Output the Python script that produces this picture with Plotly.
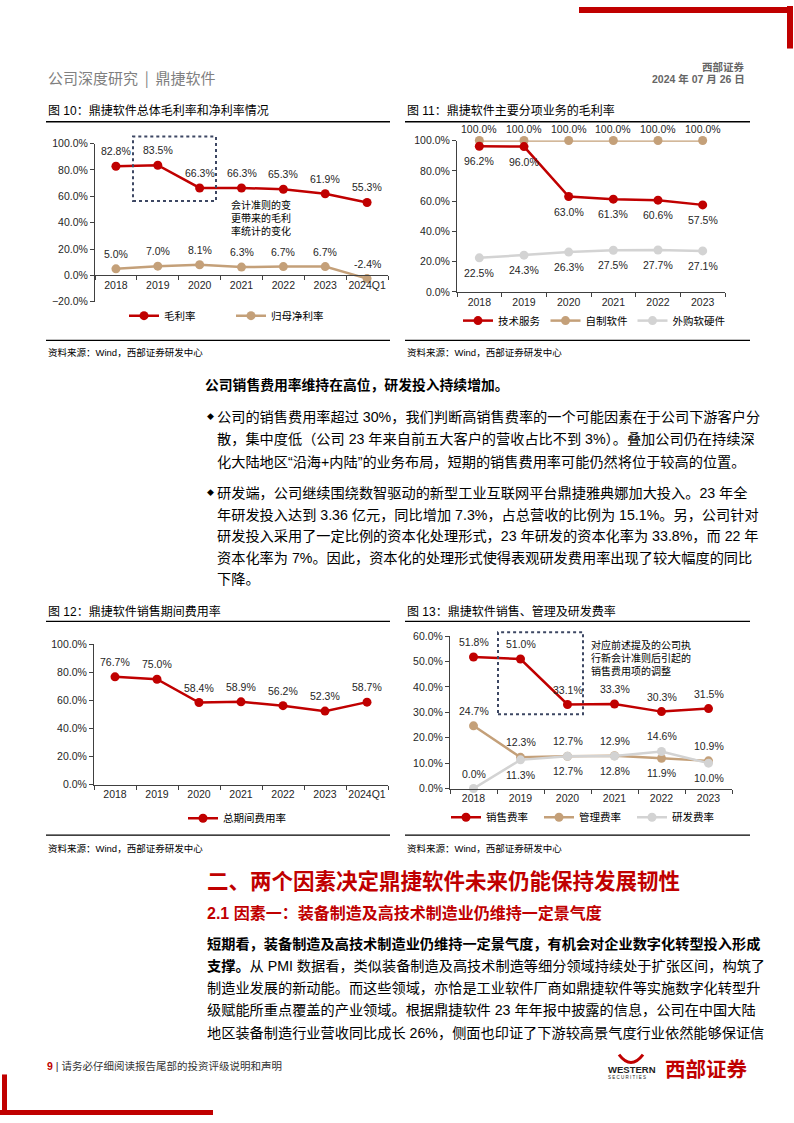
import plotly.graph_objects as go

W, H = 794, 1123


def X(p):
    return p / W


def Y(p):
    return 1 - p / H


RED = "#C00000"
TAN = "#C4A079"
GRAY = "#D3D3D3"
BOX = "#3D4763"
AX = "#404040"
TXT = "#262626"
FONT = "Liberation Sans, Noto Sans CJK SC, sans-serif"
CJK = "Noto Sans CJK SC, Liberation Sans, sans-serif"

# ---------------- data ----------------
years7 = ["2018", "2019", "2020", "2021", "2022", "2023", "2024Q1"]
years6 = ["2018", "2019", "2020", "2021", "2022", "2023"]

gross_margin = [82.8, 83.5, 66.3, 66.3, 65.3, 61.9, 55.3]
net_margin = [5.0, 7.0, 8.1, 6.3, 6.7, 6.7, -2.4]

tech_service = [96.2, 96.0, 63.0, 61.3, 60.6, 57.5]
own_software = [100.0, 100.0, 100.0, 100.0, 100.0, 100.0]
purchased_hw_sw = [22.5, 24.3, 26.3, 27.5, 27.7, 27.1]

total_expense = [76.7, 75.0, 58.4, 58.9, 56.2, 52.3, 58.7]

selling_rate = [51.8, 51.0, 33.1, 33.3, 30.3, 31.5]
admin_rate = [24.7, 12.3, 12.7, 12.9, 11.9, 10.9]
rnd_rate = [0.0, 11.3, 12.7, 12.8, 14.6, 10.0]

# label placement (a = above, b = below)
pos_admin = ["a", "a", "a", "a", "b", "a"]
pos_rnd = ["a", "b", "b", "b", "a", "b"]

fig = go.Figure()


def add_line(x, y, name, color, xa, ya, legend, rank):
    fig.add_trace(go.Scatter(
        x=x, y=y, name=name, mode="lines+markers",
        line=dict(color=color, width=2.5),
        marker=dict(size=9, color=color),
        xaxis=xa, yaxis=ya, legend=legend, legendrank=rank,
        hoverinfo="skip", cliponaxis=False))


# chart 10
add_line(years7, net_margin, "归母净利率", TAN, "x", "y", "legend", 2)
add_line(years7, gross_margin, "毛利率", RED, "x", "y", "legend", 1)
# chart 11
add_line(years6, own_software, "自制软件", TAN, "x2", "y2", "legend2", 2)
add_line(years6, purchased_hw_sw, "外购软硬件", GRAY, "x2", "y2", "legend2", 3)
add_line(years6, tech_service, "技术服务", RED, "x2", "y2", "legend2", 1)
# chart 12
add_line(years7, total_expense, "总期间费用率", RED, "x3", "y3", "legend3", 1)
# chart 13
add_line(years6, admin_rate, "管理费率", TAN, "x4", "y4", "legend4", 2)
add_line(years6, rnd_rate, "研发费率", GRAY, "x4", "y4", "legend4", 3)
add_line(years6, selling_rate, "销售费率", RED, "x4", "y4", "legend4", 1)


def yax(top, bottom, left, rng, dtick, anchor):
    return dict(domain=[Y(bottom), Y(top)], range=rng, dtick=dtick, tick0=0,
                tickformat=".1f", ticksuffix="%", showline=True, linecolor=AX,
                linewidth=1, ticks="outside", ticklen=4, tickcolor=AX,
                showgrid=False, zeroline=False, anchor=anchor,
                tickfont=dict(family=FONT, size=10.5, color=TXT),
                fixedrange=True)


def xax(left, right, n, anchor, position=None):
    d = dict(domain=[X(left), X(right)], type="category", range=[-0.5, n - 0.5],
             showline=True, linecolor=AX, linewidth=1, ticks="outside",
             tickson="boundaries", ticklen=4, tickcolor=AX, showgrid=False,
             zeroline=False, anchor=anchor, tickangle=0,
             tickfont=dict(family=FONT, size=10.5, color=TXT), fixedrange=True)
    if position is not None:
        d["position"] = position
    return d


def leg(x, y, entrywidth=None):
    d = dict(orientation="h", x=X(x), y=Y(y), xanchor="left", yanchor="middle",
             font=dict(family=CJK, size=10.5, color="#000"),
             bgcolor="rgba(0,0,0,0)", borderwidth=0,
             itemclick=False, itemdoubleclick=False)
    if entrywidth:
        d["entrywidth"] = entrywidth
        d["entrywidthmode"] = "pixels"
    return d


layout = dict(
    width=W, height=H, margin=dict(l=0, r=0, t=0, b=0),
    paper_bgcolor="white", plot_bgcolor="white", showlegend=True,
    hovermode=False,
    xaxis=xax(95, 388, 7, "free", Y(272.3)),
    yaxis=yax(139, 299, 95, [-20, 100], 20, "x"),
    xaxis2=xax(457, 725, 6, "y2"),
    yaxis2=yax(136, 289, 457, [0, 100], 20, "x2"),
    xaxis3=xax(94, 388, 7, "y3"),
    yaxis3=yax(645, 787, 94, [0, 100], 20, "x3"),
    xaxis4=xax(450, 732, 6, "y4"),
    yaxis4=yax(637, 791, 450, [0, 60], 10, "x4"),
    legend=leg(124, 313, 62),
    legend2=leg(458, 318),
    legend3=leg(183, 821),
    legend4=leg(446, 820, 48),
)

ann = []


def text(x, y, s, size=14, color="#000", family=FONT, xanchor="left", yanchor="middle"):
    ann.append(dict(x=X(x), y=Y(y), xref="paper", yref="paper", text=s,
                    showarrow=False, xanchor=xanchor, yanchor=yanchor, align="left",
                    font=dict(family=family, size=size, color=color)))


def labels(ys, xa, ya, pos=None, shift=15):
    # x given as category index so category names like "2018" are not read as numbers
    for i, v in enumerate(ys):
        p = pos[i] if pos else "a"
        ann.append(dict(x=i, y=v, xref=xa, yref=ya, text=f"{v:.1f}%",
                        showarrow=False, yshift=shift if p == "a" else -shift,
                        font=dict(family=FONT, size=10.5, color=TXT)))


labels(gross_margin, "x", "y")
labels(net_margin, "x", "y")
labels(tech_service, "x2", "y2", ["b"] * 6)
labels(own_software, "x2", "y2", shift=12)
labels(purchased_hw_sw, "x2", "y2", ["b"] * 6)
labels(total_expense, "x3", "y3")
labels(selling_rate, "x4", "y4")
labels(admin_rate, "x4", "y4", pos_admin)
labels(rnd_rate, "x4", "y4", pos_rnd)

# header
text(46, 72, "公司深度研究  |  鼎捷软件", size=15, color="#808080", family=CJK)
text(747, 61, "<b>西部证券</b>", size=10.5, color="#666666", family=CJK, xanchor="right")
text(747, 74, "<b>2024 年 07 月 26 日</b>", size=10.5, color="#666666", xanchor="right")

# chart titles and sources
text(46, 106, "图 10：鼎捷软件总体毛利率和净利率情况", size=12)
text(405, 106, "图 11：鼎捷软件主要分项业务的毛利率", size=12)
text(46, 612, "图 12：鼎捷软件销售期间费用率", size=12)
text(405, 612, "图 13：鼎捷软件销售、管理及研发费率", size=12)
for sx, sy in [(46, 350), (405, 350), (46, 852), (405, 852)]:
    text(sx, sy, "资料来源：Wind，西部证券研发中心", size=9.5)

# in-chart notes
text(229, 214, "会计准则的变<br>更带来的毛利<br>率统计的变化", size=10, family=CJK)
text(589, 659, "对应前述提及的公司执<br>行新会计准则后引起的<br>销售费用项的调整", size=10, family=CJK)

# body text
BODY = 14.2
text(203, 383, "<b>公司销售费用率维持在高位，研发投入持续增加。</b>", size=13.8)
text(205, 415, "◆", size=7)
text(215, 415, "公司的销售费用率超过 30%，我们判断高销售费率的一个可能因素在于公司下游客户分", size=BODY)
text(215, 438, "散，集中度低（公司 23 年来自前五大客户的营收占比不到 3%）。叠加公司仍在持续深", size=BODY)
text(215, 461, "化大陆地区“沿海+内陆”的业务布局，短期的销售费用率可能仍然将位于较高的位置。", size=BODY)
text(205, 492, "◆", size=7)
text(215, 492, "研发端，公司继续围绕数智驱动的新型工业互联网平台鼎捷雅典娜加大投入。23 年全", size=BODY)
text(215, 514, "年研发投入达到 3.36 亿元，同比增加 7.3%，占总营收的比例为 15.1%。另，公司针对", size=BODY)
text(215, 536, "研发投入采用了一定比例的资本化处理形式，23 年研发的资本化率为 33.8%，而 22 年", size=BODY)
text(215, 558, "资本化率为 7%。因此，资本化的处理形式使得表观研发费用率出现了较大幅度的同比", size=BODY)
text(215, 579, "下降。", size=BODY)

text(205, 885, "<b>二、两个因素决定鼎捷软件未来仍能保持发展韧性</b>", size=21.5, color=RED)
text(205, 917, "<b>2.1 因素一：装备制造及高技术制造业仍维持一定景气度</b>", size=16, color=RED)
text(205, 948, "<b>短期看，装备制造及高技术制造业仍维持一定景气度，有机会对企业数字化转型投入形成</b>", size=BODY)
text(205, 970, "<b>支撑。</b>从 PMI 数据看，类似装备制造及高技术制造等细分领域持续处于扩张区间，构筑了", size=BODY)
text(205, 993, "制造业发展的新动能。而这些领域，亦恰是工业软件厂商如鼎捷软件等实施数字化转型升", size=BODY)
text(205, 1015, "级赋能所重点覆盖的产业领域。根据鼎捷软件 23 年年报中披露的信息，公司在中国大陆", size=BODY)
text(205, 1038, "地区装备制造行业营收同比成长 26%，侧面也印证了下游较高景气度行业依然能够保证信", size=BODY)

# footer
text(45, 1071, f"<span style='color:{RED}'><b>9</b></span> | 请务必仔细阅读报告尾部的投资评级说明和声明",
     size=10.5, color="#333333")
text(606, 1075, "<b>WESTERN</b>", size=9.5, color="#222222", family="Liberation Sans")
text(606, 1083, "S E C U R I T I E S", size=4.5, color="#222222", family="Liberation Sans")
text(663, 1073, "<b>西部证券</b>", size=20.5, color=RED, family=CJK)

layout["annotations"] = ann

shapes = []


def rect(x0, y0, x1, y1, color=RED):
    shapes.append(dict(type="rect", xref="paper", yref="paper", x0=X(x0), x1=X(x1),
                       y0=Y(y1), y1=Y(y0), fillcolor=color, line=dict(width=0)))


def hline(x0, x1, y, width=1.3, color="#000"):
    shapes.append(dict(type="line", xref="paper", yref="paper", x0=X(x0), x1=X(x1),
                       y0=Y(y), y1=Y(y), line=dict(color=color, width=width)))


def dotbox(x0, y0, x1, y1):
    shapes.append(dict(type="rect", xref="paper", yref="paper", x0=X(x0), x1=X(x1),
                       y0=Y(y1), y1=Y(y0), fillcolor="rgba(0,0,0,0)",
                       line=dict(color=BOX, width=2, dash="dot")))


# red page corners
rect(579, 1, 793, 7)
rect(787, 0, 793, 43)
rect(2, 1080, 7, 1121)
rect(0, 1116, 213, 1121)

# rules
hline(46, 390, 117)
hline(405, 750, 117)
hline(46, 390, 338)
hline(405, 750, 338)
hline(46, 390, 622)
hline(405, 750, 622)
hline(46, 390, 838)
hline(405, 750, 838)

# dotted boxes
dotbox(133, 132, 216, 197)
dotbox(498, 633, 583, 716)

# logo horns
shapes.append(dict(type="path", xref="paper", yref="paper",
                   path=f"M {X(619)},{Y(1060)} Q {X(631)},{Y(1076)} {X(643)},{Y(1060)}",
                   line=dict(color=RED, width=3)))

layout["shapes"] = shapes
fig.update_layout(**layout)
fig.write_html(
    "out.html",
    config={"displayModeBar": False, "staticPlot": True},
    post_script="document.body.style.margin='0';document.body.style.padding='0';"
                "document.body.style.overflow='hidden';",
)
